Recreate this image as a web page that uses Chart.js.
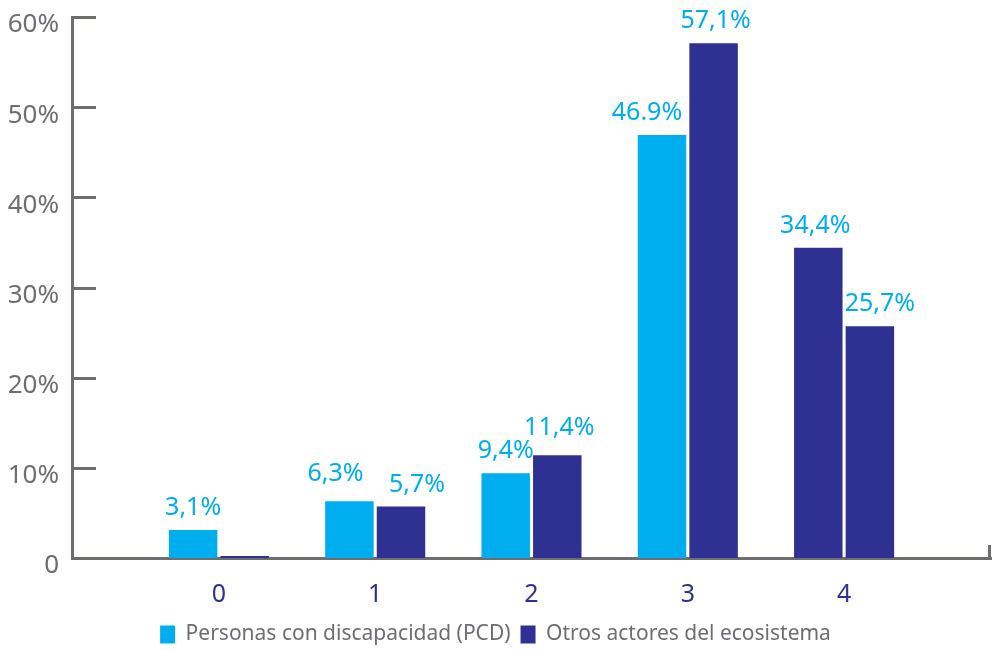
<!DOCTYPE html>
<html>
<head>
<meta charset="utf-8">
<script src="https://cdn.jsdelivr.net/npm/chart.js@4/dist/chart.umd.min.js"></script>
<style>
  html, body { margin: 0; padding: 0; background: #ffffff; }
  #wrap { width: 993px; height: 650px; position: relative; }
</style>
</head>
<body>
<div id="wrap"><canvas id="chart" width="993" height="650"></canvas></div>
<script>
// Categories on the horizontal axis
const categories = ['0', '1', '2', '3', '4'];
// Series values (percent)
const seriesNames = ['Personas con discapacidad (PCD)', 'Otros actores del ecosistema'];
const pcdValues = [3.1, 6.3, 9.4, 46.9, 34.4];
const otrosValues = [0, 5.7, 11.4, 57.1, 25.7];
// Value labels written above each bar ('' = no label)
const pcdLabels = ['3,1%', '6,3%', '9,4%', '46.9%', '34,4%'];
const otrosLabels = ['', '5,7%', '11,4%', '57,1%', '25,7%'];
// Vertical axis tick labels
const yTickValues = [0, 10, 20, 30, 40, 50, 60];
const yTickLabels = ['0', '10%', '20%', '30%', '40%', '50%', '60%'];

const CYAN = '#00aeef';
const NAVY = '#2e3192';
const GREY = '#6d6e71';
const FONT = "'Noto Sans', 'DejaVu Sans', sans-serif";

// Per-bar fill colours
const pcdColors = [CYAN, CYAN, CYAN, CYAN, NAVY];
const otrosColors = [NAVY, NAVY, NAVY, NAVY, NAVY];

const labelSets = [pcdLabels, otrosLabels];

// Writes the value labels above the bars; small nudges keep neighbouring labels apart
const valueLabels = {
  id: 'valueLabels',
  afterDatasetsDraw(chart, args, opts) {
    const ctx = chart.ctx;
    ctx.save();
    ctx.font = opts.fontSize + 'px ' + FONT;
    ctx.fillStyle = CYAN;
    ctx.textAlign = 'center';
    ctx.textBaseline = 'alphabetic';
    chart.data.datasets.forEach((ds, di) => {
      const meta = chart.getDatasetMeta(di);
      meta.data.forEach((bar, i) => {
        const txt = labelSets[di][i];
        if (!txt) return;
        const n = (opts.nudge[di] && opts.nudge[di][i]) || [0, 0];
        ctx.fillText(txt, bar.x + n[0], bar.y - opts.gap + n[1]);
      });
    });
    ctx.restore();
  }
};

// Short inward tick marks on the value axis and the end mark of the category axis
const axisMarks = {
  id: 'axisMarks',
  afterDraw(chart) {
    const ctx = chart.ctx;
    const y = chart.scales.y;
    const x = chart.scales.x;
    ctx.save();
    ctx.strokeStyle = GREY;
    ctx.lineWidth = 3;
    yTickValues.forEach(v => {
      if (v === 0) return;
      const py = Math.round(y.getPixelForValue(v)) + 0.5;
      ctx.beginPath();
      ctx.moveTo(x.left, py);
      ctx.lineTo(x.left + 24, py);
      ctx.stroke();
    });
    const px = x.right - 1.5;
    ctx.beginPath();
    ctx.moveTo(px, y.bottom);
    ctx.lineTo(px, y.bottom - 13);
    ctx.stroke();
    ctx.restore();
  }
};

new Chart(document.getElementById('chart'), {
  type: 'bar',
  data: {
    datasets: [
      {
        label: seriesNames[0],
        data: pcdValues.map((v, i) => ({ x: i, y: v })),
        backgroundColor: pcdColors,
        legendColor: CYAN
      },
      {
        label: seriesNames[1],
        data: otrosValues.map((v, i) => ({ x: i, y: v })),
        backgroundColor: otrosColors,
        legendColor: NAVY,
        minBarLength: 2
      }
    ]
  },
  options: {
    responsive: false,
    animation: false,
    layout: { padding: { top: 17, right: 2, left: 0, bottom: -5 } },
    datasets: {
      bar: { categoryPercentage: 0.66, barPercentage: 0.94 }
    },
    scales: {
      x: {
        type: 'linear',
        offset: false,
        min: -0.94,
        max: 4.94,
        afterBuildTicks(scale) {
          scale.ticks = categories.map((c, i) => ({ value: i }));
        },
        afterFit(scale) { scale.height = 56; },
        grid: { display: false, drawTicks: false, offset: false },
        border: { display: true, color: GREY, width: 3 },
        ticks: {
          color: NAVY,
          font: { family: FONT, size: 25 },
          padding: 22,
          callback: (v) => categories[v]
        }
      },
      y: {
        min: 0,
        max: 60,
        afterBuildTicks(scale) {
          scale.ticks = yTickValues.map(v => ({ value: v }));
        },
        afterFit(scale) {
          scale.width = 72;
          scale.paddingTop = 0;
          scale.paddingBottom = 0;
        },
        grid: { display: false, drawTicks: false },
        border: { display: true, color: GREY, width: 3 },
        ticks: {
          color: GREY,
          font: { family: FONT, size: 26 },
          padding: 13,
          labelOffset: 8,
          callback: (v, i) => yTickLabels[i]
        }
      }
    },
    plugins: {
      tooltip: { enabled: false },
      valueLabels: {
        fontSize: 25,
        gap: 15,
        nudge: [
          [[0, 0], [-14, -5], [0, 0], [-15, 0], [-3, 0]],
          [[0, 0], [16, 0], [2, -5], [2, 0], [10, 0]]
        ]
      },
      legend: {
        position: 'bottom',
        labels: {
          color: GREY,
          font: { family: FONT, size: 21 },
          boxWidth: 15,
          boxHeight: 18,
          padding: 10,
          generateLabels(chart) {
            return chart.data.datasets.map((ds, i) => ({
              text: ds.label,
              fillStyle: ds.legendColor,
              strokeStyle: ds.legendColor,
              lineWidth: 0,
              fontColor: GREY,
              hidden: false,
              datasetIndex: i
            }));
          }
        }
      }
    }
  },
  plugins: [valueLabels, axisMarks]
});
</script>
</body>
</html>
